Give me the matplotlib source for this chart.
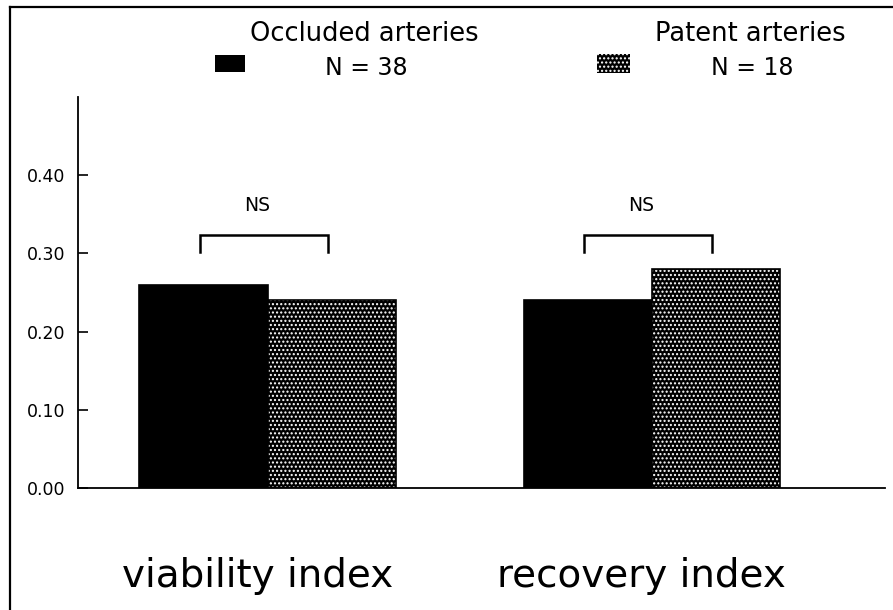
import matplotlib
matplotlib.use("Agg")
import matplotlib.pyplot as plt
from matplotlib.patches import Rectangle
from matplotlib.lines import Line2D

# values
groups = ["viability index", "recovery index"]
occluded = [0.26, 0.24]
patent = [0.24, 0.28]
series_names = ["Occluded arteries", "Patent arteries"]
series_n = ["N = 38", "N = 18"]
ns_labels = ["NS", "NS"]
yticks = [0.00, 0.10, 0.20, 0.30, 0.40]

W, H = 893, 610
fig = plt.figure(figsize=(W / 100, H / 100), dpi=100)


def px(x, y):
    # pixel position -> figure fraction
    return x / W, 1 - y / H


# axes placed to match the reference frame
ax = fig.add_axes([78 / W, 1 - 488 / H, (885 - 78) / W, (488 - 97) / H])

centers = [0.0, 3.0]
width = 1.0
occ_x = [c - width / 2 for c in centers]
pat_x = [c + width / 2 for c in centers]

ax.bar(occ_x, occluded, width=width, color="black", edgecolor="black", linewidth=1.2)
# dotted pattern: white hatch on black, then an outline on top
ax.bar(pat_x, patent, width=width, color="black", edgecolor="white", hatch="....", linewidth=0)
ax.bar(pat_x, patent, width=width, fill=False, edgecolor="black", linewidth=1.2)

# NS brackets
for c, lab in zip(centers, ns_labels):
    x0, x1 = c - 0.53, c + 0.47
    ax.plot([x0, x0, x1, x1], [0.302, 0.324, 0.324, 0.302], color="black", lw=1.8,
            solid_joinstyle="miter")
    ax.text(c - 0.08, 0.3615, lab, ha="center", va="center", fontsize=13.5)

ax.set_xlim(-1.48, 4.82)
ax.set_ylim(0, 0.50)
ax.set_yticks(yticks)
ax.set_yticklabels([f"{v:.2f}" for v in yticks])
ax.tick_params(axis="y", direction="in", length=7.5, width=1.2, pad=9, labelsize=12.5)
ax.set_xticks([c - 0.08 for c in centers])
ax.set_xticklabels(groups)
ax.tick_params(axis="x", length=0, pad=50, labelsize=28)
for s in ["top", "right"]:
    ax.spines[s].set_visible(False)
for s in ["left", "bottom"]:
    ax.spines[s].set_linewidth(1.3)

# legend drawn by hand, like the original figure
leg_boxes = [(215, 55, 30, 17), (597, 54, 33, 19)]
leg_centers = [364, 750]
for i, (bx, by, bw, bh) in enumerate(leg_boxes):
    x0, y1 = px(bx, by + bh)
    rect = Rectangle((x0, y1), bw / W, bh / H, transform=fig.transFigure,
                     facecolor="black", edgecolor="white" if i else "black",
                     hatch="...." if i else None, linewidth=0)
    fig.add_artist(rect)
    fig.text(*px(leg_centers[i], 34), series_names[i], ha="center", va="center", fontsize=18.5)
    fig.text(*px(leg_centers[i] + 2, 68), series_n[i], ha="center", va="center", fontsize=17)

# frame lines on the left and top
fig.add_artist(Line2D([10 / W, 10 / W], [0, 1 - 7 / H], transform=fig.transFigure, color="black", lw=1.6))
fig.add_artist(Line2D([10 / W, 1], [1 - 7 / H, 1 - 7 / H], transform=fig.transFigure, color="black", lw=1.6))

fig.savefig("out.png", dpi=100)
